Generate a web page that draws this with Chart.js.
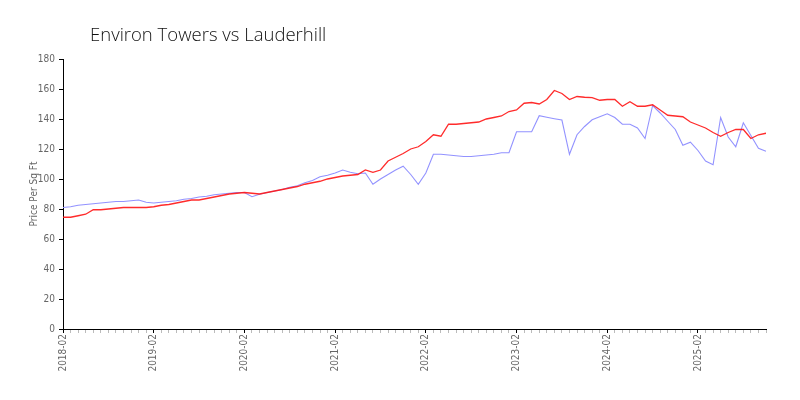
<!DOCTYPE html>
<html>
<head>
<meta charset="utf-8">
<script src="https://cdn.jsdelivr.net/npm/chart.js@4"></script>
<style>
  html, body { margin: 0; padding: 0; background: #fff; }
  #wrap { position: relative; width: 800px; height: 400px; }
</style>
</head>
<body>
<div id="wrap"><canvas id="c" width="800" height="400"></canvas></div>
<script>
// ---- data ----
const chartTitle = "Environ Towers vs Lauderhill";
const yAxisTitle = "Price Per Sq Ft";
const startYear = 2018, startMonth = 2, monthCount = 94;
const months = [];
for (let i = 0; i < monthCount; i++) {
  const m = startMonth - 1 + i;
  const y = startYear + Math.floor(m / 12);
  const mm = (m % 12) + 1;
  months.push(y + "-" + String(mm).padStart(2, "0"));
}
const redSeries = [
  74.5, 74.5, 75.5, 76.5, 79.5, 79.5, 80, 80.5, 81, 81, 81, 81,
  81.5, 82.5, 83, 84, 85, 86, 86, 87, 88, 89, 90, 90.5,
  91, 90.5, 90, 91, 92, 93, 94, 95, 96.5, 97.5, 98.5, 100,
  101, 102, 102.5, 103, 106, 104.5, 106, 112, 114.5, 117, 120, 121.5,
  125, 129.5, 128.5, 136.5, 136.5, 137, 137.5, 138, 140, 141, 142, 145,
  146, 150.5, 151, 150, 153, 159, 157, 153, 155, 154.5, 154.2, 152.5,
  153, 153, 148.5, 151.5, 148.5, 148.5, 149.5, 146, 142.5, 142, 141.5, 138,
  136, 134, 131, 128.5, 131, 133, 133, 127, 129.5, 130.5
];
const blueSeries = [
  81, 81.5, 82.5, 83, 83.5, 84, 84.5, 85, 85, 85.5, 86, 84.5,
  84, 84.5, 85, 85.5, 86.5, 87, 88, 88.5, 89.5, 90, 90.5, 91,
  91, 88.2, 89.8, 91, 92, 93, 94.5, 95.5, 97.5, 99, 101.5, 102.5,
  104, 106, 104.5, 103.5, 104, 96.5, 100, 103, 106, 108.5, 103, 96.5,
  104, 116.5, 116.5, 116, 115.5, 115, 115, 115.5, 116, 116.5, 117.5, 117.5,
  131.5, 131.5, 131.5, 142.2, 141.2, 140.2, 139.3, 116.5, 129.5, 135, 139.5, 141.5,
  143.5, 141, 136.5, 136.5, 134, 127, 149, 144, 138.5, 133, 122.5, 124.5,
  119, 112, 109.5, 141, 128, 121.5, 137.5, 129, 120.5, 118.5
];
const yTicksMin = 0, yTicksMax = 180, yTickStep = 20;

// ---- chart ----
const tickFont = { family: "'DejaVu Sans Condensed', 'DejaVu Sans', sans-serif", size: 10 };
const titlePlugin = {
  id: 'leftTitle',
  afterDraw(chart) {
    const ctx = chart.ctx;
    ctx.save();
    ctx.fillStyle = '#111';
    ctx.font = "300 18.5px 'Open Sans', 'Lato', sans-serif";
    ctx.textBaseline = 'alphabetic';
    ctx.textAlign = 'left';
    ctx.fillText(chartTitle, 90, 41);
    ctx.restore();
  }
};

new Chart(document.getElementById('c'), {
  type: 'line',
  data: {
    labels: months,
    datasets: [
      { label: 'Environ Towers', data: redSeries, borderColor: 'rgba(255,20,20,0.9)', borderWidth: 1.3,
        pointRadius: 0, tension: 0, fill: false },
      { label: 'Lauderhill', data: blueSeries, borderColor: 'rgba(140,140,255,0.95)', borderWidth: 1.1,
        pointRadius: 0, tension: 0, fill: false }
    ]
  },
  options: {
    responsive: false,
    animation: false,
    devicePixelRatio: 1,
    layout: { padding: { top: 59, right: 34, left: 0, bottom: 0 } },
    plugins: { legend: { display: false }, title: { display: false }, tooltip: { enabled: false } },
    scales: {
      x: {
        type: 'category',
        offset: false,
        afterFit(s) { s.height = 71; },
        border: { display: true, color: '#000', width: 1 },
        grid: {
          drawOnChartArea: false, drawTicks: true, tickLength: 4,
          tickColor: (c) => (months[c.index] && months[c.index].endsWith('-02')) ? '#000' : '#bbb'
        },
        ticks: {
          autoSkip: false, maxRotation: 90, minRotation: 90, padding: 1,
          color: '#666', font: tickFont,
          callback: (v, i) => months[i].endsWith('-02') ? months[i] : ''
        }
      },
      y: {
        min: yTicksMin, max: yTicksMax,
        afterFit(s) { s.width = 63; },
        border: { display: true, color: '#000', width: 1 },
        grid: { drawOnChartArea: false, drawTicks: true, tickLength: 4, tickColor: '#000' },
        ticks: { stepSize: yTickStep, padding: 4, color: '#666', font: tickFont },
        title: { display: true, text: yAxisTitle, color: '#666', font: tickFont, padding: { top: 28, bottom: 0 } }
      }
    }
  },
  plugins: [titlePlugin]
});
</script>
</body>
</html>
